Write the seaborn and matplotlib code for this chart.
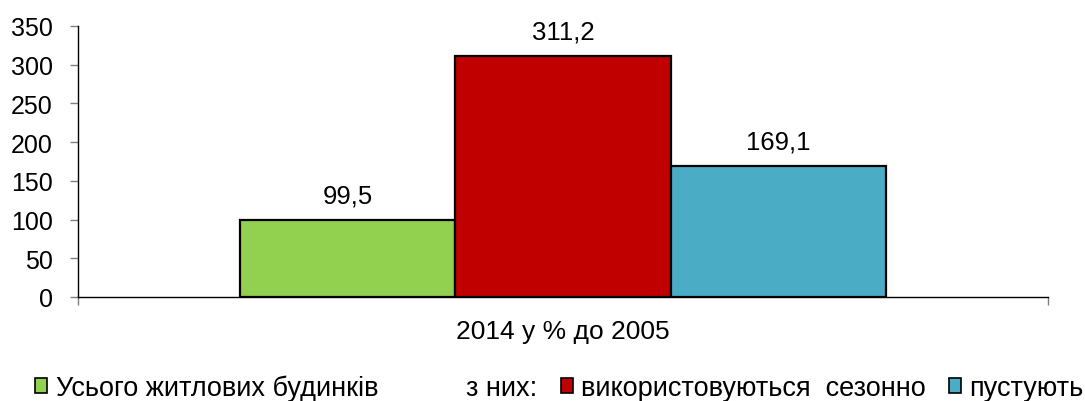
import numpy as np
import pandas as pd
import matplotlib.pyplot as plt
import matplotlib.patches as mpatches
import seaborn as sns

categories = ["2014 у % до 2005"]
series = ["Усього житлових будинків", "використовуються  сезонно", "пустують"]
values = [99.5, 311.2, 169.1]
colors = ["#92D050", "#C00000", "#4BACC6"]
yticks = [0, 50, 100, 150, 200, 250, 300, 350]

df = pd.DataFrame({
    "cat": categories * len(series),
    "series": series,
    "value": values,
})

sns.set_style("white")
plt.rcParams['font.family'] = ['Liberation Sans', 'DejaVu Sans']
plt.rcParams['text.color'] = 'black'
plt.rcParams['xtick.labelcolor'] = 'black'
plt.rcParams['ytick.labelcolor'] = 'black'

fig = plt.figure(figsize=(10.85, 4.02), dpi=100)
ax = fig.add_axes([78 / 1085, 1 - 298 / 402, (1048 - 78) / 1085, (298 - 27) / 402])

sns.barplot(data=df, x="cat", y="value", hue="series", hue_order=series,
            palette=colors, width=2 / 3, gap=0, edgecolor="black",
            linewidth=1.6, saturation=1, legend=False, ax=ax)

ax.set_xlim(-0.5, 0.5)
ax.set_ylim(0, 350)
ax.set_yticks(yticks)
ax.set_xlabel("")
ax.set_ylabel("")

for p, v in zip(ax.patches, values):
    ax.annotate(f"{v:.1f}".replace(".", ","),
                (p.get_x() + p.get_width() / 2, p.get_height()),
                xytext=(0, 9), textcoords="offset points",
                ha="center", va="bottom", fontsize=18.5, color="black")

for s in ["top", "right"]:
    ax.spines[s].set_visible(False)
for s in ["left", "bottom"]:
    ax.spines[s].set_color("black")
    ax.spines[s].set_linewidth(1.0)

ax.tick_params(axis="y", which="major", left=True, length=6, width=1,
               color="#808080", pad=12, labelsize=18, labelcolor="black")
ax.tick_params(axis="x", which="major", bottom=False, pad=12, labelsize=19,
               labelcolor="black")
ax.set_xticks([-0.5, 0.5], minor=True)
ax.tick_params(axis="x", which="minor", bottom=True, length=6, width=1,
               color="#808080")

handles = [
    mpatches.Patch(facecolor=colors[0], edgecolor="black", linewidth=1.2),
    mpatches.Patch(facecolor="none", edgecolor="none"),
    mpatches.Patch(facecolor=colors[1], edgecolor="black", linewidth=1.2),
    mpatches.Patch(facecolor=colors[2], edgecolor="black", linewidth=1.2),
]
labels = [series[0], "      з них:", series[1], series[2]]
fig.legend(handles, labels, loc="center", bbox_to_anchor=(0.5155, 0.033),
           ncol=4, frameon=False, fontsize=19.5, handlelength=0.45,
           handleheight=0.45, handletextpad=0.3, columnspacing=0.85,
           labelcolor="black")

plt.savefig("out.png", dpi=100)
